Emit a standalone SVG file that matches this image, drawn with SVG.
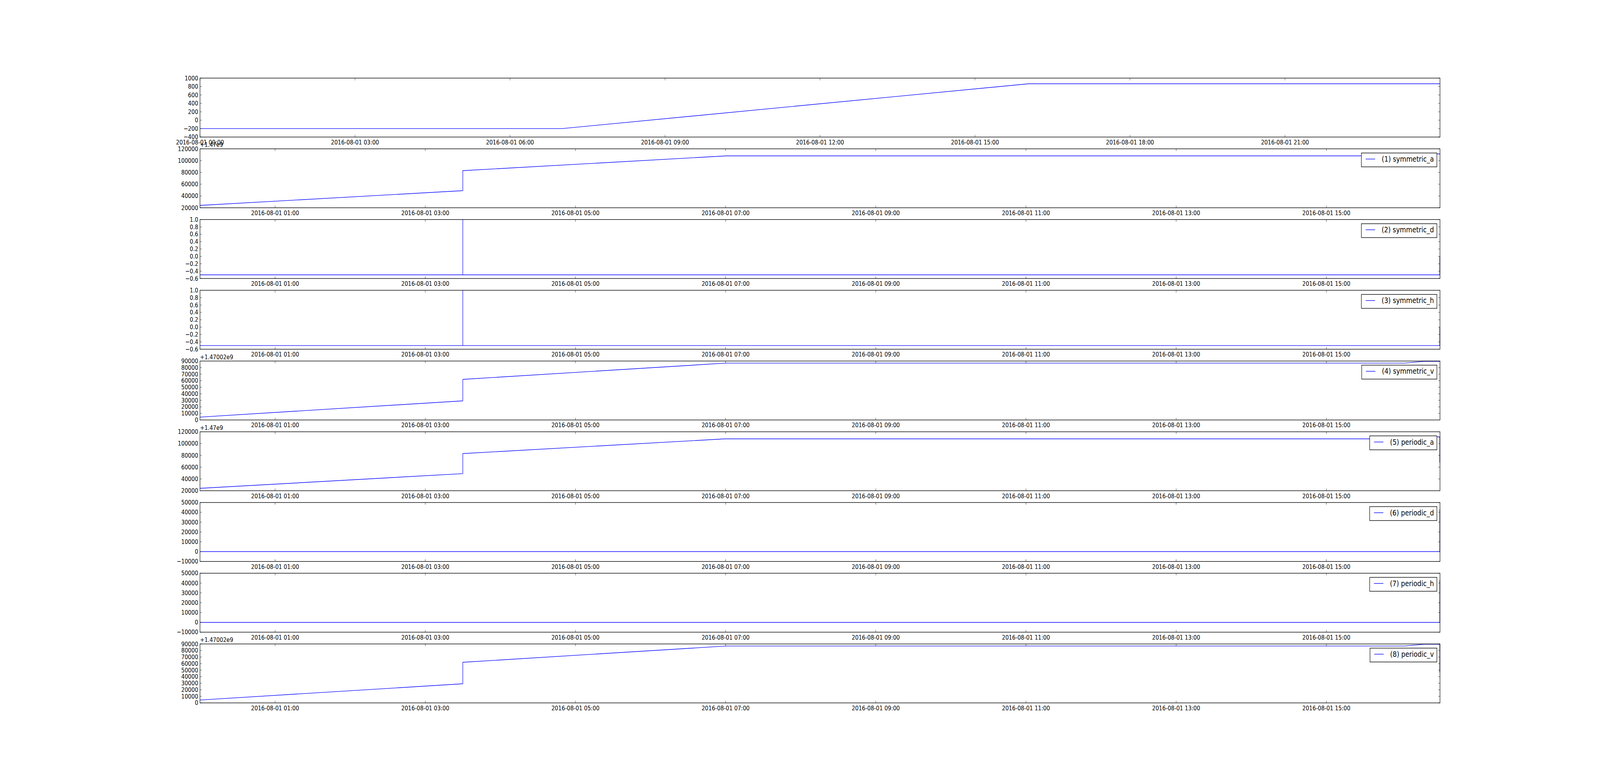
<svg xmlns="http://www.w3.org/2000/svg" xmlns:xlink="http://www.w3.org/1999/xlink" width="5000" height="2000" viewBox="0 0 5000 2000" preserveAspectRatio="none">
<style>
svg{width:100%;height:100%}
.frame{fill:none;stroke:#000;stroke-width:1.4}
.tk{fill:none;stroke:#000;stroke-width:0.8}
.data{fill:none;stroke:#0000ff;stroke-width:1.4;stroke-linejoin:round}
.t{font-family:"DejaVu Sans","Liberation Sans",sans-serif;font-size:16.67px;fill:#000}
.yl{text-anchor:end}
.xl{text-anchor:middle}
.off{text-anchor:start}
.legbox{fill:#fff;stroke:#000;stroke-width:1.4}
.leghd{stroke:#0000ff;stroke-width:1.4}
.legt{font-family:"DejaVu Sans","Liberation Sans",sans-serif;font-size:20px;fill:#000;text-anchor:end}
</style>
<defs>
<path id="xt1" d="M625 0v5.56M1109.38 0v5.56M1593.75 0v5.56M2078.13 0v5.56M2562.5 0v5.56M3046.88 0v5.56M3531.25 0v5.56M4015.63 0v5.56M625 150.94v-5.56M1109.38 150.94v-5.56M1593.75 150.94v-5.56M2078.13 150.94v-5.56M2562.5 150.94v-5.56M3046.88 150.94v-5.56M3531.25 150.94v-5.56M4015.63 150.94v-5.56"/>
<path id="xt" d="M859.65 0v5.56M1328.96 0v5.56M1798.26 0v5.56M2267.57 0v5.56M2736.87 0v5.56M3206.18 0v5.56M3675.48 0v5.56M4144.79 0v5.56M859.65 150.94v-5.56M1328.96 150.94v-5.56M1798.26 150.94v-5.56M2267.57 150.94v-5.56M2736.87 150.94v-5.56M3206.18 150.94v-5.56M3675.48 150.94v-5.56M4144.79 150.94v-5.56"/>
<path id="yt1" d="M625 0h5.56M625 21.56h5.56M625 43.13h5.56M625 64.69h5.56M625 86.25h5.56M625 107.81h5.56M625 129.38h5.56M625 150.94h5.56M4500 0h-5.56M4500 21.56h-5.56M4500 43.13h-5.56M4500 64.69h-5.56M4500 86.25h-5.56M4500 107.81h-5.56M4500 129.38h-5.56M4500 150.94h-5.56"/>
<path id="ytA" d="M625 0h5.56M625 30.19h5.56M625 60.38h5.56M625 90.56h5.56M625 120.75h5.56M625 150.94h5.56M4500 0h-5.56M4500 30.19h-5.56M4500 60.38h-5.56M4500 90.56h-5.56M4500 120.75h-5.56M4500 150.94h-5.56"/>
<path id="ytD" d="M625 0h5.56M625 18.87h5.56M625 37.74h5.56M625 56.6h5.56M625 75.47h5.56M625 94.34h5.56M625 113.21h5.56M625 132.07h5.56M625 150.94h5.56M4500 0h-5.56M4500 18.87h-5.56M4500 37.74h-5.56M4500 56.6h-5.56M4500 75.47h-5.56M4500 94.34h-5.56M4500 113.21h-5.56M4500 132.07h-5.56M4500 150.94h-5.56"/>
<path id="ytV" d="M625 0h5.56M625 16.77h5.56M625 33.54h5.56M625 50.31h5.56M625 67.08h5.56M625 83.86h5.56M625 100.63h5.56M625 117.4h5.56M625 134.17h5.56M625 150.94h5.56M4500 0h-5.56M4500 16.77h-5.56M4500 33.54h-5.56M4500 50.31h-5.56M4500 67.08h-5.56M4500 83.86h-5.56M4500 100.63h-5.56M4500 117.4h-5.56M4500 134.17h-5.56M4500 150.94h-5.56"/>
<path id="ytP" d="M625 0h5.56M625 25.16h5.56M625 50.31h5.56M625 75.47h5.56M625 100.63h5.56M625 125.78h5.56M625 150.94h5.56M4500 0h-5.56M4500 25.16h-5.56M4500 50.31h-5.56M4500 75.47h-5.56M4500 100.63h-5.56M4500 125.78h-5.56M4500 150.94h-5.56"/>
</defs>
<rect x="0" y="0" width="5000" height="2000" fill="#fff"/>

<g id="panel0" transform="translate(0,200)">
<path class="data" d="M625 129.38H1755.21L3214.8 14.45H4500"/>
<rect class="frame" x="625" y="0" width="3875" height="150.94"/>
<use class="tk" href="#xt1"/>
<use class="tk" href="#yt1"/>
<g class="t yl">
<text x="619.4" y="5.5">1000</text><text x="619.4" y="27.06">800</text><text x="619.4" y="48.63">600</text><text x="619.4" y="70.19">400</text><text x="619.4" y="91.75">200</text><text x="619.4" y="113.31">0</text><text x="619.4" y="134.88">−200</text><text x="619.4" y="156.44">−400</text>
</g>
<g class="t xl">
<text x="625" y="169.94">2016-08-01 00:00</text><text x="1109.38" y="169.94">2016-08-01 03:00</text><text x="1593.75" y="169.94">2016-08-01 06:00</text><text x="2078.13" y="169.94">2016-08-01 09:00</text><text x="2562.5" y="169.94">2016-08-01 12:00</text><text x="3046.88" y="169.94">2016-08-01 15:00</text><text x="3531.25" y="169.94">2016-08-01 18:00</text><text x="4015.63" y="169.94">2016-08-01 21:00</text>
</g>
</g>

<g id="panel1" transform="translate(0,381.13)">
<path class="data" d="M625 144.91L1446.28 107.18V55.86L2267.55 18.12H4389.96L4449.8 13.14H4500"/>
<rect class="frame" x="625" y="0" width="3875" height="150.94"/>
<use class="tk" href="#xt"/>
<use class="tk" href="#ytA"/>
<text class="t off" x="625" y="-4.7">+1.47e9</text>
<g class="t yl">
<text x="619.4" y="5.5">120000</text><text x="619.4" y="35.69">100000</text><text x="619.4" y="65.88">80000</text><text x="619.4" y="96.06">60000</text><text x="619.4" y="126.25">40000</text><text x="619.4" y="156.44">20000</text>
</g>
<g class="t xl">
<text x="859.65" y="169.94">2016-08-01 01:00</text><text x="1328.96" y="169.94">2016-08-01 03:00</text><text x="1798.26" y="169.94">2016-08-01 05:00</text><text x="2267.57" y="169.94">2016-08-01 07:00</text><text x="2736.87" y="169.94">2016-08-01 09:00</text><text x="3206.18" y="169.94">2016-08-01 11:00</text><text x="3675.48" y="169.94">2016-08-01 13:00</text><text x="4144.79" y="169.94">2016-08-01 15:00</text>
</g>
<g id="legend1">
<rect class="legbox" x="4254.3" y="10.6" width="236" height="35.6"/>
<line class="leghd" x1="4267.7" y1="26.2" x2="4297" y2="26.2"/>
<text class="legt" x="4481" y="32.9">(1) symmetric_a</text>
</g>
</g>

<g id="panel2" transform="translate(0,562.26)">
<path class="data" d="M625 141.51H1446.28V0V141.51H4499.3V94.34"/>
<rect class="frame" x="625" y="0" width="3875" height="150.94"/>
<use class="tk" href="#xt"/>
<use class="tk" href="#ytD"/>
<g class="t yl">
<text x="619.4" y="5.5">1.0</text><text x="619.4" y="24.37">0.8</text><text x="619.4" y="43.24">0.6</text><text x="619.4" y="62.1">0.4</text><text x="619.4" y="80.97">0.2</text><text x="619.4" y="99.84">0.0</text><text x="619.4" y="118.71">−0.2</text><text x="619.4" y="137.57">−0.4</text><text x="619.4" y="156.44">−0.6</text>
</g>
<g class="t xl">
<text x="859.65" y="169.94">2016-08-01 01:00</text><text x="1328.96" y="169.94">2016-08-01 03:00</text><text x="1798.26" y="169.94">2016-08-01 05:00</text><text x="2267.57" y="169.94">2016-08-01 07:00</text><text x="2736.87" y="169.94">2016-08-01 09:00</text><text x="3206.18" y="169.94">2016-08-01 11:00</text><text x="3675.48" y="169.94">2016-08-01 13:00</text><text x="4144.79" y="169.94">2016-08-01 15:00</text>
</g>
<g id="legend2">
<rect class="legbox" x="4254.3" y="10.6" width="236" height="35.6"/>
<line class="leghd" x1="4267.7" y1="26.2" x2="4297" y2="26.2"/>
<text class="legt" x="4481" y="32.9">(2) symmetric_d</text>
</g>
</g>

<g id="panel3" transform="translate(0,743.4)">
<path class="data" d="M625 141.51H1446.28V0V141.51H4499.3V94.34"/>
<rect class="frame" x="625" y="0" width="3875" height="150.94"/>
<use class="tk" href="#xt"/>
<use class="tk" href="#ytD"/>
<g class="t yl">
<text x="619.4" y="5.5">1.0</text><text x="619.4" y="24.37">0.8</text><text x="619.4" y="43.24">0.6</text><text x="619.4" y="62.1">0.4</text><text x="619.4" y="80.97">0.2</text><text x="619.4" y="99.84">0.0</text><text x="619.4" y="118.71">−0.2</text><text x="619.4" y="137.57">−0.4</text><text x="619.4" y="156.44">−0.6</text>
</g>
<g class="t xl">
<text x="859.65" y="169.94">2016-08-01 01:00</text><text x="1328.96" y="169.94">2016-08-01 03:00</text><text x="1798.26" y="169.94">2016-08-01 05:00</text><text x="2267.57" y="169.94">2016-08-01 07:00</text><text x="2736.87" y="169.94">2016-08-01 09:00</text><text x="3206.18" y="169.94">2016-08-01 11:00</text><text x="3675.48" y="169.94">2016-08-01 13:00</text><text x="4144.79" y="169.94">2016-08-01 15:00</text>
</g>
<g id="legend3">
<rect class="legbox" x="4254.3" y="10.6" width="236" height="35.6"/>
<line class="leghd" x1="4267.7" y1="26.2" x2="4297" y2="26.2"/>
<text class="legt" x="4481" y="32.9">(3) symmetric_h</text>
</g>
</g>

<g id="panel4" transform="translate(0,924.53)">
<path class="data" d="M625 143.56L1446.28 101.97V46.96L2267.55 5.35H4389.96L4449.8 0.84H4500"/>
<rect class="frame" x="625" y="0" width="3875" height="150.94"/>
<use class="tk" href="#xt"/>
<use class="tk" href="#ytV"/>
<text class="t off" x="625" y="-4.7">+1.47002e9</text>
<g class="t yl">
<text x="619.4" y="5.5">90000</text><text x="619.4" y="22.27">80000</text><text x="619.4" y="39.04">70000</text><text x="619.4" y="55.81">60000</text><text x="619.4" y="72.58">50000</text><text x="619.4" y="89.36">40000</text><text x="619.4" y="106.13">30000</text><text x="619.4" y="122.9">20000</text><text x="619.4" y="139.67">10000</text><text x="619.4" y="156.44">0</text>
</g>
<g class="t xl">
<text x="859.65" y="169.94">2016-08-01 01:00</text><text x="1328.96" y="169.94">2016-08-01 03:00</text><text x="1798.26" y="169.94">2016-08-01 05:00</text><text x="2267.57" y="169.94">2016-08-01 07:00</text><text x="2736.87" y="169.94">2016-08-01 09:00</text><text x="3206.18" y="169.94">2016-08-01 11:00</text><text x="3675.48" y="169.94">2016-08-01 13:00</text><text x="4144.79" y="169.94">2016-08-01 15:00</text>
</g>
<g id="legend4">
<rect class="legbox" x="4255.3" y="10.6" width="235" height="35.6"/>
<line class="leghd" x1="4268.7" y1="26.2" x2="4298" y2="26.2"/>
<text class="legt" x="4481" y="32.9">(4) symmetric_v</text>
</g>
</g>

<g id="panel5" transform="translate(0,1105.66)">
<path class="data" d="M625 144.91L1446.28 107.18V55.86L2267.55 18.12H4389.96L4449.8 13.14H4499.3V79.34"/>
<rect class="frame" x="625" y="0" width="3875" height="150.94"/>
<use class="tk" href="#xt"/>
<use class="tk" href="#ytA"/>
<text class="t off" x="625" y="-4.7">+1.47e9</text>
<g class="t yl">
<text x="619.4" y="5.5">120000</text><text x="619.4" y="35.69">100000</text><text x="619.4" y="65.88">80000</text><text x="619.4" y="96.06">60000</text><text x="619.4" y="126.25">40000</text><text x="619.4" y="156.44">20000</text>
</g>
<g class="t xl">
<text x="859.65" y="169.94">2016-08-01 01:00</text><text x="1328.96" y="169.94">2016-08-01 03:00</text><text x="1798.26" y="169.94">2016-08-01 05:00</text><text x="2267.57" y="169.94">2016-08-01 07:00</text><text x="2736.87" y="169.94">2016-08-01 09:00</text><text x="3206.18" y="169.94">2016-08-01 11:00</text><text x="3675.48" y="169.94">2016-08-01 13:00</text><text x="4144.79" y="169.94">2016-08-01 15:00</text>
</g>
<g id="legend5">
<rect class="legbox" x="4280.3" y="10.6" width="210" height="35.6"/>
<line class="leghd" x1="4293.7" y1="26.2" x2="4323" y2="26.2"/>
<text class="legt" x="4481" y="32.9">(5) periodic_a</text>
</g>
</g>

<g id="panel6" transform="translate(0,1286.79)">
<path class="data" d="M625 125.78H4499.3V17.6"/>
<rect class="frame" x="625" y="0" width="3875" height="150.94"/>
<use class="tk" href="#xt"/>
<use class="tk" href="#ytP"/>
<g class="t yl">
<text x="619.4" y="5.5">50000</text><text x="619.4" y="30.66">40000</text><text x="619.4" y="55.81">30000</text><text x="619.4" y="80.97">20000</text><text x="619.4" y="106.13">10000</text><text x="619.4" y="131.28">0</text><text x="619.4" y="156.44">−10000</text>
</g>
<g class="t xl">
<text x="859.65" y="169.94">2016-08-01 01:00</text><text x="1328.96" y="169.94">2016-08-01 03:00</text><text x="1798.26" y="169.94">2016-08-01 05:00</text><text x="2267.57" y="169.94">2016-08-01 07:00</text><text x="2736.87" y="169.94">2016-08-01 09:00</text><text x="3206.18" y="169.94">2016-08-01 11:00</text><text x="3675.48" y="169.94">2016-08-01 13:00</text><text x="4144.79" y="169.94">2016-08-01 15:00</text>
</g>
<g id="legend6">
<rect class="legbox" x="4280.3" y="10.6" width="210" height="35.6"/>
<line class="leghd" x1="4293.7" y1="26.2" x2="4323" y2="26.2"/>
<text class="legt" x="4481" y="32.9">(6) periodic_d</text>
</g>
</g>

<g id="panel7" transform="translate(0,1467.92)">
<path class="data" d="M625 125.78H4499.3V17.6"/>
<rect class="frame" x="625" y="0" width="3875" height="150.94"/>
<use class="tk" href="#xt"/>
<use class="tk" href="#ytP"/>
<g class="t yl">
<text x="619.4" y="5.5">50000</text><text x="619.4" y="30.66">40000</text><text x="619.4" y="55.81">30000</text><text x="619.4" y="80.97">20000</text><text x="619.4" y="106.13">10000</text><text x="619.4" y="131.28">0</text><text x="619.4" y="156.44">−10000</text>
</g>
<g class="t xl">
<text x="859.65" y="169.94">2016-08-01 01:00</text><text x="1328.96" y="169.94">2016-08-01 03:00</text><text x="1798.26" y="169.94">2016-08-01 05:00</text><text x="2267.57" y="169.94">2016-08-01 07:00</text><text x="2736.87" y="169.94">2016-08-01 09:00</text><text x="3206.18" y="169.94">2016-08-01 11:00</text><text x="3675.48" y="169.94">2016-08-01 13:00</text><text x="4144.79" y="169.94">2016-08-01 15:00</text>
</g>
<g id="legend7">
<rect class="legbox" x="4280.3" y="10.6" width="210" height="35.6"/>
<line class="leghd" x1="4293.7" y1="26.2" x2="4323" y2="26.2"/>
<text class="legt" x="4481" y="32.9">(7) periodic_h</text>
</g>
</g>

<g id="panel8" transform="translate(0,1649.06)">
<path class="data" d="M625 143.56L1446.28 101.97V46.96L2267.55 5.35H4389.96L4449.8 0.84H4499.3V72.79"/>
<rect class="frame" x="625" y="0" width="3875" height="150.94"/>
<use class="tk" href="#xt"/>
<use class="tk" href="#ytV"/>
<text class="t off" x="625" y="-4.7">+1.47002e9</text>
<g class="t yl">
<text x="619.4" y="5.5">90000</text><text x="619.4" y="22.27">80000</text><text x="619.4" y="39.04">70000</text><text x="619.4" y="55.81">60000</text><text x="619.4" y="72.58">50000</text><text x="619.4" y="89.36">40000</text><text x="619.4" y="106.13">30000</text><text x="619.4" y="122.9">20000</text><text x="619.4" y="139.67">10000</text><text x="619.4" y="156.44">0</text>
</g>
<g class="t xl">
<text x="859.65" y="169.94">2016-08-01 01:00</text><text x="1328.96" y="169.94">2016-08-01 03:00</text><text x="1798.26" y="169.94">2016-08-01 05:00</text><text x="2267.57" y="169.94">2016-08-01 07:00</text><text x="2736.87" y="169.94">2016-08-01 09:00</text><text x="3206.18" y="169.94">2016-08-01 11:00</text><text x="3675.48" y="169.94">2016-08-01 13:00</text><text x="4144.79" y="169.94">2016-08-01 15:00</text>
</g>
<g id="legend8">
<rect class="legbox" x="4281.3" y="10.6" width="209" height="35.6"/>
<line class="leghd" x1="4294.7" y1="26.2" x2="4324" y2="26.2"/>
<text class="legt" x="4481" y="32.9">(8) periodic_v</text>
</g>
</g>

<g id="connectors"></g>
</svg>
